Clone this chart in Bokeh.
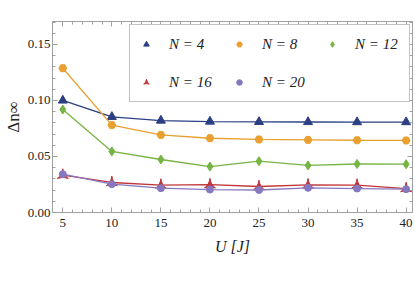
from bokeh.plotting import figure
from bokeh.models import (FixedTicker, LinearAxis, Legend, LegendItem, Range1d,
                          CustomJSTickFormatter, PrintfTickFormatter)
from bokeh.embed import file_html
from bokeh.resources import INLINE

U = [5, 10, 15, 20, 25, 30, 35, 40]
n4 = [0.1000, 0.0854, 0.0821, 0.0812, 0.0809, 0.0808, 0.0807, 0.0807]
n8 = [0.1288, 0.0780, 0.0693, 0.0663, 0.0652, 0.0648, 0.0645, 0.0643]
n12 = [0.0919, 0.0545, 0.0473, 0.0410, 0.0458, 0.0420, 0.0433, 0.0431]
n16 = [0.0333, 0.0268, 0.0245, 0.0248, 0.0232, 0.0247, 0.0245, 0.0214]
n20 = [0.0342, 0.0253, 0.0217, 0.0205, 0.0201, 0.0220, 0.0214, 0.0208]

labels = ["N = 4", "N = 8", "N = 12", "N = 16", "N = 20"]
series = [n4, n8, n12, n16, n20]
colors = ["#2b3f82", "#e8a030", "#76b443", "#c0343a", "#8678c0"]
markers = ["triangle", "hex", "diamond", "triangle_pin", "circle"]
sizes = [9, 8, 9, 11, 7]

x_ticks = [5, 10, 15, 20, 25, 30, 35, 40]
y_ticks = [0.0, 0.05, 0.10, 0.15]

FONT = "Liberation Serif"
AXC = "#a0a0a0"

p = figure(frame_width=360, frame_height=191, output_backend="svg",
           toolbar_location=None, x_range=Range1d(3.95, 40.65),
           y_range=Range1d(0, 0.1705), min_border_left=45, min_border_top=21,
           min_border_right=2, min_border_bottom=50,
           x_axis_label="U [J]", y_axis_label="Δn∞")
p.xgrid.visible = False
p.ygrid.visible = False
p.outline_line_color = AXC
p.background_fill_color = "white"
p.border_fill_color = "white"

xt = FixedTicker(ticks=x_ticks, minor_ticks=list(range(4, 41)))
yt = FixedTicker(ticks=y_ticks, minor_ticks=[i / 100 for i in range(0, 18)])


def style(ax, labels_on=True):
    ax.axis_line_color = AXC
    ax.major_tick_line_color = AXC
    ax.minor_tick_line_color = AXC
    ax.major_tick_in = 5
    ax.major_tick_out = 0
    ax.minor_tick_in = 3
    ax.minor_tick_out = 0
    ax.major_label_text_font = FONT
    ax.major_label_text_font_size = "13px"
    ax.major_label_text_color = "#222222"
    ax.axis_label_text_font = FONT
    ax.axis_label_text_font_size = "16px"
    ax.axis_label_text_font_style = "italic"
    ax.axis_label_text_color = "#222222"
    if not labels_on:
        ax.formatter = CustomJSTickFormatter(code="return ''")
        ax.major_label_standoff = 0


p.xaxis.ticker = xt
p.yaxis.ticker = yt
p.yaxis.formatter = PrintfTickFormatter(format="%.2f")
style(p.xaxis[0])
style(p.yaxis[0])
p.xaxis.major_label_standoff = 6
p.yaxis.major_label_standoff = 2
p.yaxis.axis_label_standoff = 2
p.xaxis.axis_label_standoff = 8
p.yaxis.axis_label_text_font_style = "normal"
p.yaxis.axis_label_text_font_size = "17px"

top = LinearAxis(ticker=xt)
style(top, False)
p.add_layout(top, "above")
right = LinearAxis(ticker=yt)
style(right, False)
p.add_layout(right, "right")

items = []
for lab, ys, c, m, s in zip(labels, series, colors, markers, sizes):
    ln = p.line(U, ys, line_color=c, line_width=1.3)
    sc = p.scatter(U, ys, marker=m, size=s, fill_color=c, line_color=c)
    items.append(LegendItem(label=lab, renderers=[sc]))

leg = Legend(items=items, orientation="horizontal", ncols=3,
             location=(77, 110), padding=9, spacing=18,
             glyph_width=14, glyph_height=14, label_height=20,
             label_width=45, label_standoff=16,
             label_text_font=FONT, label_text_font_size="15px",
             label_text_font_style="italic", label_text_color="#222222",
             border_line_color="#888888", border_line_width=1,
             background_fill_alpha=1.0)
p.add_layout(leg, "center")

open("out.html", "w").write(file_html(p, INLINE))
